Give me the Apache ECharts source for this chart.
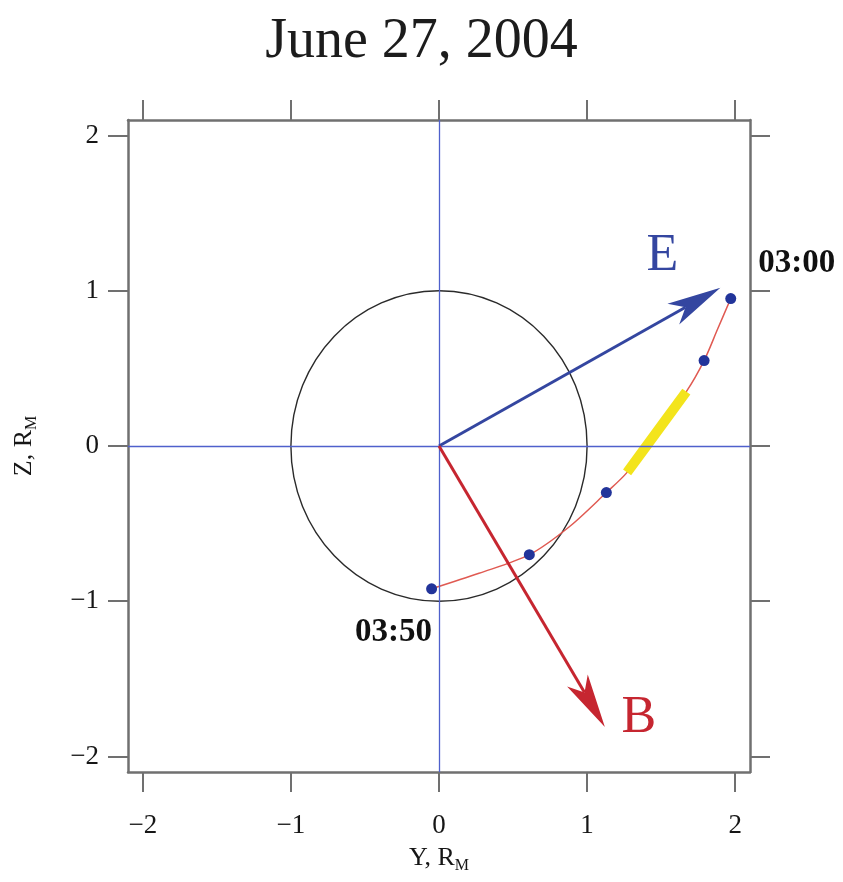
<!DOCTYPE html>
<html>
<head>
<meta charset="utf-8">
<script src="https://cdn.jsdelivr.net/npm/echarts@6/dist/echarts.min.js"></script>
<style>
  html, body { margin: 0; padding: 0; background: #fff; }
  #chart { width: 843px; height: 882px; }
</style>
</head>
<body>
<div id="chart"></div>
<script>
// ---- data (units of Mercury radii) ----
const titleText = 'June 27, 2004';
const tickValues = [-2, -1, 0, 1, 2];
const axisExtent = [-2.1, 2.1];

// planet outline: centre Y, centre Z, radius
const planet = [[0, 0, 1]];

// spacecraft track, 03:50 -> 03:00
const orbitY = [-0.05, 0.27, 0.61, 0.88, 1.13, 1.27, 1.47, 1.67, 1.79, 1.88, 1.97];
const orbitZ = [-0.92, -0.82, -0.70, -0.52, -0.30, -0.17, 0.09, 0.35, 0.55, 0.75, 0.95];

// time markers along the track
const markY = [-0.05, 0.61, 1.13, 1.79, 1.97];
const markZ = [-0.92, -0.70, -0.30, 0.55, 0.95];
const markTime = ['03:50', '', '', '', '03:00'];

// highlighted interval of the track
const segY = [1.27, 1.47, 1.67];
const segZ = [-0.17, 0.09, 0.35];

// field directions from the origin (Y, Z)
const eVec = [1.90, 1.02];
const bVec = [1.12, -1.81];

// ---- styling ----
const frameColor = '#707070';
const crossColor = '#4f60cc';
const eColor = '#3446a0';
const bColor = '#c62630';
const serif = '"Liberation Serif", "Times New Roman", serif';
const minus = v => String(v).replace('-', '\u2212');

const chart = echarts.init(document.getElementById('chart'), null, { renderer: 'canvas' });

function baseAxis(extra) {
  return Object.assign({
    type: 'value',
    min: axisExtent[0],
    max: axisExtent[1],
    axisLine: { show: true, onZero: false, lineStyle: { color: frameColor, width: 2.5 } },
    axisTick: { show: true, inside: false, length: 20, customValues: tickValues,
                lineStyle: { color: frameColor, width: 2 } },
    axisLabel: { show: false },
    splitLine: { show: false }
  }, extra);
}

const tickLabel = (margin) => ({
  show: true, customValues: tickValues, margin: margin,
  fontFamily: serif, fontSize: 27, color: '#161616', formatter: minus
});

const nameStyle = {
  fontFamily: serif, fontSize: 26, color: '#161616',
  rich: { sub: { fontFamily: serif, fontSize: 16, color: '#161616', verticalAlign: 'bottom', padding: [15, 0, 0, 0] } }
};

function arrowRenderer(color, text, textOffset) {
  return function (params, api) {
    const p0 = api.coord([api.value(0), api.value(1)]);
    const p1 = api.coord([api.value(2), api.value(3)]);
    const dx = p1[0] - p0[0], dy = p1[1] - p0[1];
    const len = Math.sqrt(dx * dx + dy * dy);
    const ux = dx / len, uy = dy / len, nx = -uy, ny = ux;
    const headLen = 54, headHalf = 12, notch = 40;
    const bx = p1[0] - ux * headLen, by = p1[1] - uy * headLen;
    const np = [p1[0] - ux * notch, p1[1] - uy * notch];
    return {
      type: 'group',
      children: [
        { type: 'line', shape: { x1: p0[0], y1: p0[1], x2: np[0], y2: np[1] },
          style: { stroke: color, lineWidth: 3 } },
        { type: 'polygon',
          shape: { points: [p1, [bx + nx * headHalf, by + ny * headHalf], np, [bx - nx * headHalf, by - ny * headHalf]] },
          style: { fill: color } },
        { type: 'text', x: p1[0] + textOffset[0], y: p1[1] + textOffset[1],
          style: { text: text, fill: color, font: '52px ' + serif, align: 'center', verticalAlign: 'middle' } }
      ]
    };
  };
}

const markLabelOffsets = { '03:50': [-38, 44], '03:00': [66, -35] };

const option = {
  animation: false,
  backgroundColor: '#ffffff',
  title: {
    text: titleText, left: 'center', top: 9,
    textStyle: { fontFamily: serif, fontSize: 56, fontWeight: 'normal', color: '#1c1c1c' }
  },
  grid: { left: 128, right: 93, top: 120, bottom: 110, containLabel: false, outerBoundsMode: 'none' },
  xAxis: [
    baseAxis({ position: 'bottom', axisLabel: tickLabel(40),
      name: 'Y, R{sub|M}', nameLocation: 'middle', nameGap: 71, nameTextStyle: nameStyle }),
    baseAxis({ position: 'top' })
  ],
  yAxis: [
    baseAxis({ position: 'left', axisLabel: tickLabel(29),
      name: 'Z, R{sub|M}', nameLocation: 'middle', nameGap: 88, nameTextStyle: nameStyle }),
    baseAxis({ position: 'right' })
  ],
  series: [
    {
      // coordinate cross through the planet centre
      type: 'line', data: [], silent: true, z: 1,
      markLine: {
        silent: true, symbol: 'none', label: { show: false },
        lineStyle: { color: crossColor, width: 1.3, type: 'solid', opacity: 1 },
        data: [
          { xAxis: 0, lineStyle: { color: crossColor, width: 1.3, type: 'solid' } },
          { yAxis: 0, lineStyle: { color: crossColor, width: 1.3, type: 'solid' } }
        ]
      }
    },
    {
      type: 'custom', z: 2, silent: true,
      data: planet,
      renderItem: function (params, api) {
        const c = api.coord([api.value(0), api.value(1)]);
        const r = api.size([api.value(2), api.value(2)]);
        return { type: 'ellipse', shape: { cx: c[0], cy: c[1], rx: r[0], ry: r[1] },
                 style: { fill: null, stroke: '#2a2a2a', lineWidth: 1.4 } };
      }
    },
    {
      type: 'line', z: 3, silent: true, smooth: 0.3, showSymbol: false,
      data: orbitY.map((y, i) => [y, orbitZ[i]]),
      lineStyle: { color: '#e05a52', width: 1.5 }
    },
    {
      type: 'line', z: 4, silent: true, smooth: 0.3, showSymbol: false,
      data: segY.map((y, i) => [y, segZ[i]]),
      lineStyle: { color: '#f3e41c', width: 10, cap: 'butt' }
    },
    {
      type: 'scatter', z: 6, silent: true, symbolSize: 11,
      itemStyle: { color: '#22349a', opacity: 1 },
      data: markY.map((y, i) => ({
        value: [y, markZ[i]],
        label: markTime[i] ? {
          show: true, formatter: markTime[i], position: 'inside',
          offset: markLabelOffsets[markTime[i]],
          fontFamily: serif, fontWeight: 'bold', fontSize: 33, color: '#111'
        } : { show: false }
      }))
    },
    {
      type: 'custom', z: 5, silent: true,
      data: [[0, 0, eVec[0], eVec[1]]],
      renderItem: arrowRenderer(eColor, 'E', [-58, -31])
    },
    {
      type: 'custom', z: 5, silent: true,
      data: [[0, 0, bVec[0], bVec[1]]],
      renderItem: arrowRenderer(bColor, 'B', [34, -9])
    }
  ]
};

chart.setOption(option);
</script>
</body>
</html>
